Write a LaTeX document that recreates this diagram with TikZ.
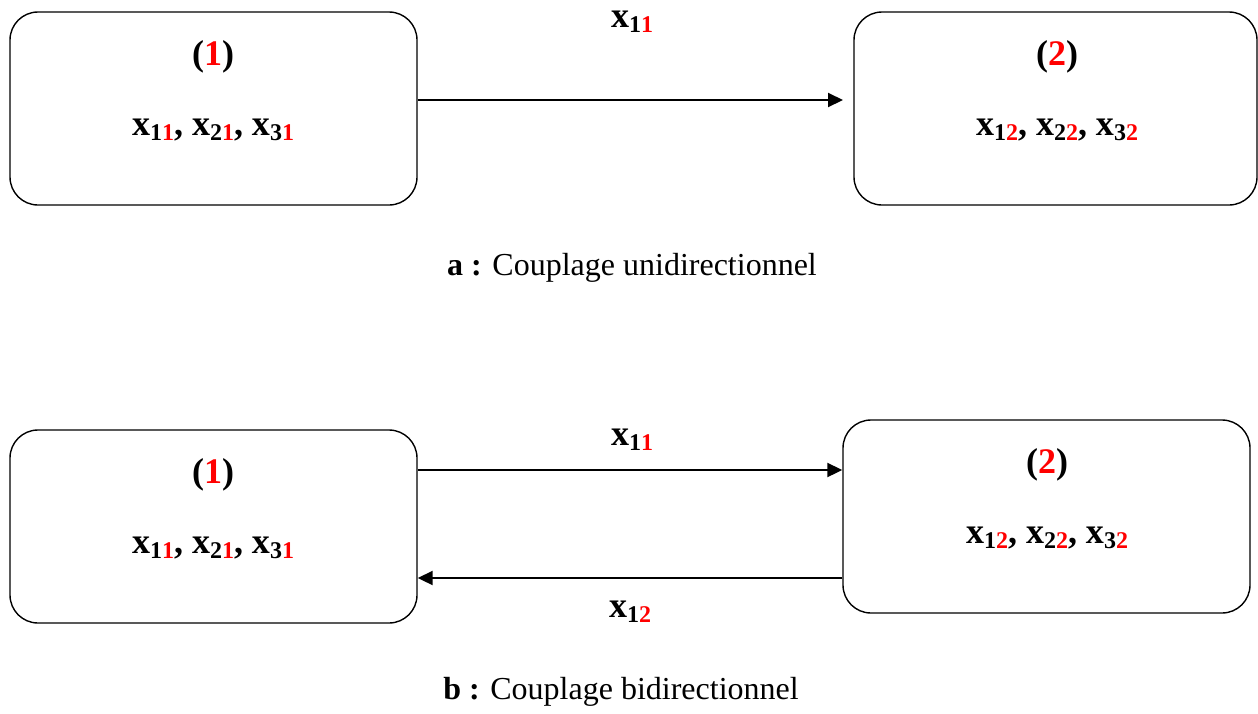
\documentclass[tikz,border=0pt]{standalone}
\usepackage{fontspec}
\setmainfont{Liberation Serif}
\usetikzlibrary{arrows.meta}
\definecolor{sred}{RGB}{255,0,0}
% variable with a two-digit index: first digit black, second red
\newcommand{\xv}[2]{x\raisebox{-0.13em}{\fontsize{24}{26}\selectfont #1\textcolor{sred}{#2}}}
\begin{document}
\begin{tikzpicture}[x=1pt,y=-1pt,
  sysbox/.style={draw,line width=1.4pt,rounded corners=28pt,minimum width=407pt,minimum height=193pt,inner sep=0pt},
  flow/.style={line width=2pt,-{Triangle[length=15pt,width=14pt]}},
  boxtxt/.style={font=\fontsize{36}{40}\selectfont\bfseries,inner sep=0pt},
  captxt/.style={font=\fontsize{32}{36}\selectfont,inner sep=0pt}]
\useasboundingbox (0,0) rectangle (1258,713);
% (a) one-way coupling
\node[sysbox] (a1) at (213.5,108.5) {};
\node[sysbox,minimum width=403pt] (a2) at (1055.5,108.5) {};
\node[boxtxt] (a1n) at (213,57) {(\textcolor{sred}{1})};
\node[boxtxt] (a1v) at (213,130) {\xv{1}{1}, \xv{2}{1}, \xv{3}{1}};
\node[boxtxt] (a2n) at (1057,57) {(\textcolor{sred}{2})};
\node[boxtxt] (a2v) at (1057,130) {\xv{1}{2}, \xv{2}{2}, \xv{3}{2}};
\coordinate (atip) at (843,100);
\draw[flow] (a1.east |- atip) -- (atip);
\node[boxtxt] (alab) at (632,22) {\xv{1}{1}};
\node[captxt] (acap) at (632,268) {\textbf{a :} Couplage unidirectionnel};
% (b) two-way coupling
\node[sysbox] (b1) at (213.5,526.5) {};
\node[sysbox] (b2) at (1046.5,516.5) {};
\node[boxtxt] (b1n) at (213,475) {(\textcolor{sred}{1})};
\node[boxtxt] (b1v) at (213,548) {\xv{1}{1}, \xv{2}{1}, \xv{3}{1}};
\node[boxtxt] (b2n) at (1047,465) {(\textcolor{sred}{2})};
\node[boxtxt] (b2v) at (1047,538) {\xv{1}{2}, \xv{2}{2}, \xv{3}{2}};
\coordinate (btop) at (0,470);
\coordinate (bbot) at (0,578);
\draw[flow] (b1.east |- btop) -- (b2.west |- btop);
\draw[flow] (b2.west |- bbot) -- (b1.east |- bbot);
\node[boxtxt] (blab1) at (632,440) {\xv{1}{1}};
\node[boxtxt] (blab2) at (630,612) {\xv{1}{2}};
\node[captxt] (bcap) at (621,692) {\textbf{b :} Couplage bidirectionnel};
\end{tikzpicture}
\end{document}
